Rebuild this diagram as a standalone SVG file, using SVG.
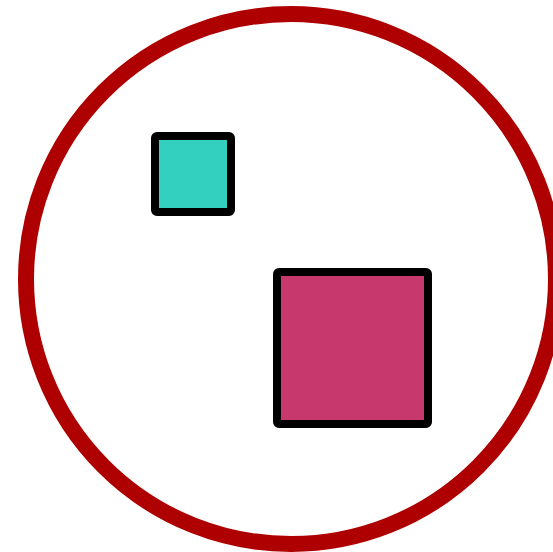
<svg xmlns="http://www.w3.org/2000/svg" width="553" height="552" viewBox="0 0 553 552">
<style>
.box{stroke:#000;stroke-width:8;}
</style>
<rect width="553" height="552" fill="#fff"/>
<g id="circle">
<circle cx="291" cy="279" r="265" fill="none" stroke="#ae0000" stroke-width="16"/>
</g>
<g id="small-square">
<rect class="box" x="155" y="136" width="76" height="76" rx="2" fill="#33d0bf"/>
</g>
<g id="large-square">
<rect class="box" x="277" y="272" width="151" height="152" rx="2" fill="#c7386c"/>
</g>
<g id="connectors"></g>
</svg>
